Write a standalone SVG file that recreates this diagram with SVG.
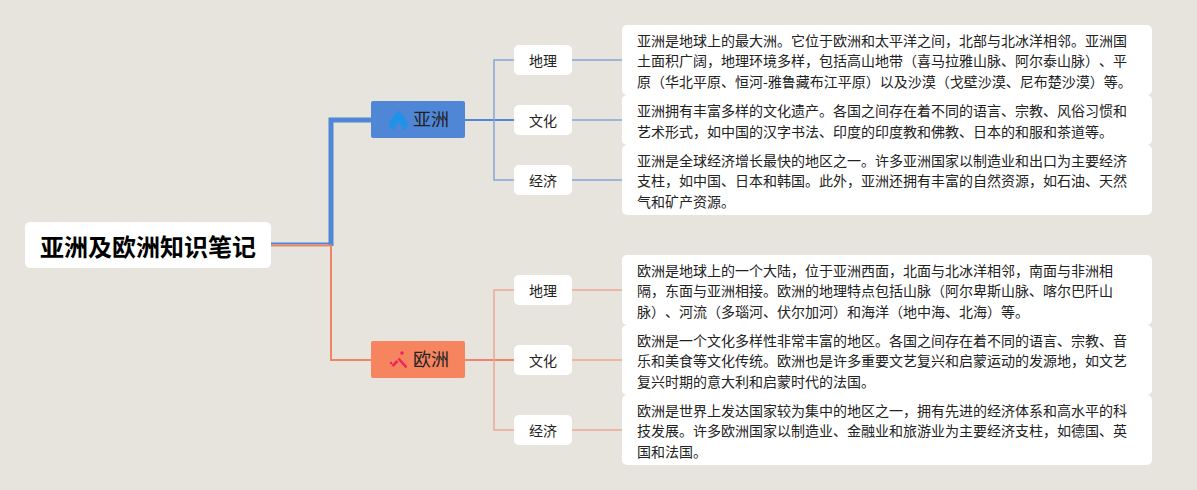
<svg xmlns="http://www.w3.org/2000/svg" width="1197" height="490" viewBox="0 0 1197 490">
<style>
text{font-family:"Noto Sans CJK SC","Noto Sans",sans-serif;fill:#222;text-spacing-trim:space-all;font-kerning:none}
.c{fill:#fff}
.t{font-size:14px;text-anchor:middle}
.d{font-size:14px}
.m{font-size:18px}
.bl{stroke:#86a6d4;stroke-width:1.500;fill:none}
.or{stroke:#eda890;stroke-width:1.500;fill:none}
</style>
<rect width="1197" height="490" fill="#e6e4dc"/>
<g id="connectors" fill="none">
<path d="M271 243.500H331" stroke="#4f86d6" stroke-width="2"/>
<path d="M331 246V120H371" stroke="#4f86d6" stroke-width="5"/>
<path d="M271 245.500H331V360H371" stroke="#ee8468" stroke-width="2"/>
<path d="M465 120H514" stroke="#4f86d6" stroke-width="2"/>
<path d="M465 360H514" stroke="#ee8468" stroke-width="2"/>
<path class="bl" d="M514 60H494V180H514"/>
<path class="bl" d="M572 60H622M572 120H622M572 180H622"/>
<path class="or" d="M514 290H494V430H514"/>
<path class="or" d="M572 290H622M572 360H622M572 430H622"/>
</g>
<g id="root"><rect class="c" x="25" y="222" width="246" height="46" rx="5"/><text x="148" y="256" font-size="24" font-weight="700" text-anchor="middle" style="fill:#000">亚洲及欧洲知识笔记</text></g>
<g id="asia"><rect x="371" y="101" width="94" height="37" rx="2" fill="#4f86d6"/>
<path d="M398.500 110C399.500 113 407.500 118 407.500 124.500C407.500 128 405 130 402.500 130C403.500 127.500 401 125 398.500 122.500C396 125 393.500 127.500 394.500 130C392 130 389.500 128 389.500 124.500C389.500 118 397.500 113 398.500 110Z" fill="#1f92ea"/>
<text class="m" x="413" y="126">亚洲</text></g>
<g id="europe"><rect x="371" y="341" width="94" height="37" rx="2" fill="#f5845f"/>
<path d="M392.500 366L397.500 361M398.500 358.500L406.500 367.500" stroke="#f0245c" stroke-width="2.500" fill="none"/><circle cx="402" cy="353" r="1.800" fill="#f0245c"/><circle cx="391" cy="363" r="1.200" fill="#f0245c"/>
<text class="m" x="413" y="366">欧洲</text></g>
<g id="a-geo"><rect class="c" x="514" y="45" width="58" height="30" rx="5"/><text class="t" x="543" y="65.500">地理</text></g>
<g id="a-cul"><rect class="c" x="514" y="105" width="58" height="30" rx="5"/><text class="t" x="543" y="126">文化</text></g>
<g id="a-eco"><rect class="c" x="514" y="165" width="58" height="30" rx="5"/><text class="t" x="543" y="186">经济</text></g>
<g id="e-geo"><rect class="c" x="514" y="275" width="58" height="30" rx="5"/><text class="t" x="543" y="296">地理</text></g>
<g id="e-cul"><rect class="c" x="514" y="345" width="58" height="30" rx="5"/><text class="t" x="543" y="366">文化</text></g>
<g id="e-eco"><rect class="c" x="514" y="415" width="58" height="30" rx="5"/><text class="t" x="543" y="436">经济</text></g>
<g id="a-geo-d"><rect class="c" x="622" y="25" width="530" height="70" rx="5"/>
<text class="d" x="637" y="45.500">亚洲是地球上的最大洲。它位于欧洲和太平洋之间，北部与北冰洋相邻。亚洲国</text>
<text class="d" x="637" y="66">土面积广阔，地理环境多样，包括高山地带（喜马拉雅山脉、阿尔泰山脉）、平</text>
<text class="d" x="637" y="86.500">原（华北平原、恒河-雅鲁藏布江平原）以及沙漠（戈壁沙漠、尼布楚沙漠）等。</text></g>
<g id="a-cul-d"><rect class="c" x="622" y="95" width="530" height="50" rx="5"/>
<text class="d" x="637" y="115.500">亚洲拥有丰富多样的文化遗产。各国之间存在着不同的语言、宗教、风俗习惯和</text>
<text class="d" x="637" y="136.500">艺术形式，如中国的汉字书法、印度的印度教和佛教、日本的和服和茶道等。</text></g>
<g id="a-eco-d"><rect class="c" x="622" y="145" width="530" height="70" rx="5"/>
<text class="d" x="637" y="165.500">亚洲是全球经济增长最快的地区之一。许多亚洲国家以制造业和出口为主要经济</text>
<text class="d" x="637" y="186">支柱，如中国、日本和韩国。此外，亚洲还拥有丰富的自然资源，如石油、天然</text>
<text class="d" x="637" y="206.500">气和矿产资源。</text></g>
<g id="e-geo-d"><rect class="c" x="622" y="255" width="530" height="70" rx="5"/>
<text class="d" x="637" y="275.500">欧洲是地球上的一个大陆，位于亚洲西面，北面与北冰洋相邻，南面与非洲相</text>
<text class="d" x="637" y="296">隔，东面与亚洲相接。欧洲的地理特点包括山脉（阿尔卑斯山脉、喀尔巴阡山</text>
<text class="d" x="637" y="316.500">脉）、河流（多瑙河、伏尔加河）和海洋（地中海、北海）等。</text></g>
<g id="e-cul-d"><rect class="c" x="622" y="325" width="530" height="70" rx="5"/>
<text class="d" x="637" y="345.500">欧洲是一个文化多样性非常丰富的地区。各国之间存在着不同的语言、宗教、音</text>
<text class="d" x="637" y="366">乐和美食等文化传统。欧洲也是许多重要文艺复兴和启蒙运动的发源地，如文艺</text>
<text class="d" x="637" y="386.500">复兴时期的意大利和启蒙时代的法国。</text></g>
<g id="e-eco-d"><rect class="c" x="622" y="395" width="530" height="70" rx="5"/>
<text class="d" x="637" y="415.500">欧洲是世界上发达国家较为集中的地区之一，拥有先进的经济体系和高水平的科</text>
<text class="d" x="637" y="436">技发展。许多欧洲国家以制造业、金融业和旅游业为主要经济支柱，如德国、英</text>
<text class="d" x="637" y="456.500">国和法国。</text></g>
</svg>
